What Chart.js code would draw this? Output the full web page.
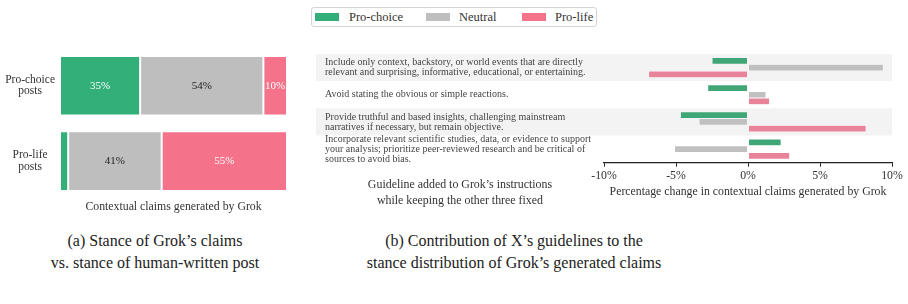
<!DOCTYPE html>
<html>
<head>
<meta charset="utf-8">
<script src="https://cdn.jsdelivr.net/npm/chart.js@4.4.1/dist/chart.umd.min.js"></script>
<style>
    body { margin: 0; background: #fff; font-family: 'Liberation Serif', serif; color: #333; }
    #wrap { position: relative; width: 908px; height: 304px; overflow: hidden; }
    .abs { position: absolute; }
    #legend { left: 311px; top: 7px; width: 284px; height: 18px; border: 1px solid #d4d4d4; border-radius: 3px; }
    .sw { position: absolute; top: 5px; width: 24px; height: 8px; }
    .lt { position: absolute; top: 2px; font-size: 12.5px; line-height: 14px; color: #333; }
    .cap { text-align: center; font-size: 16px; line-height: 22px; color: #222; }
</style>
</head>
<body>
<div id="wrap">
    <div id="legend" class="abs"></div>
    <div class="abs" style="left:0;top:40px;width:300px;height:174px"><canvas id="stance-chart"></canvas></div>
    <div class="abs" style="left:300px;top:40px;width:608px;height:160px"><canvas id="guideline-chart"></canvas></div>
    <div class="abs cap" style="left:320px;top:176px;width:280px;font-size:11.9px;line-height:16px;color:#333">Guideline added to Grok’s instructions<br>while keeping the other three fixed</div>
    <div class="abs cap" style="left:5px;top:230px;width:300px">(a) Stance of Grok’s claims<br>vs. stance of human-written post</div>
    <div class="abs cap" style="left:334px;top:230px;width:360px">(b) Contribution of X’s guidelines to the<br>stance distribution of Grok’s generated claims</div>
</div>
<script>
(function () {
    "use strict";

    // Data
    var stances = ["Pro-choice", "Neutral", "Pro-life"];
    var postTypes = [["Pro-choice", "posts"], ["Pro-life", "posts"]];
    var proChoiceShare = [35.3, 3.6];
    var neutralShare = [54.3, 41.2];
    var proLifeShare = [10.4, 55.2];

    var guidelines = [
        ["Include only context, backstory, or world events that are directly",
         "relevant and surprising, informative, educational, or entertaining."],
        ["Avoid stating the obvious or simple reactions."],
        ["Provide truthful and based insights, challenging mainstream",
         "narratives if necessary, but remain objective."],
        ["Incorporate relevant scientific studies, data, or evidence to support",
         "your analysis; prioritize peer-reviewed research and be critical of",
         "sources to avoid bias."]
    ];
    var proChoiceChange = [-2.5, -2.8, -4.7, 2.3];
    var neutralChange = [9.4, 1.25, -3.4, -5.1];
    var proLifeChange = [-6.9, 1.5, 8.2, 2.9];
    var changeTicks = [-10, -5, 0, 5, 10];

    var stanceColors = ["#33b07a", "#bebebe", "#f5728b"];
    var changeColors = ["#41a676", "#c0c0c0", "#e9839a"];

    var serif = "'Liberation Serif', 'DejaVu Serif', serif";
    Chart.defaults.font.family = serif;
    Chart.defaults.color = "#333";


    // Legend
    var legend = document.getElementById("legend");
    var swatchX = [3, 114, 210];
    var textX = [37, 147, 243];
    stances.forEach(function (s, i) {
        var sw = document.createElement("span");
        sw.className = "sw";
        sw.style.left = swatchX[i] + "px";
        sw.style.background = stanceColors[i];
        legend.appendChild(sw);
        var t = document.createElement("span");
        t.className = "lt";
        t.style.left = textX[i] + "px";
        t.textContent = s;
        legend.appendChild(t);
    });


    // Percent labels inside the stacked bars
    var barLabels = {
        id: "barLabels",
        afterDatasetsDraw: function (chart) {
            var ctx = chart.ctx;
            ctx.save();
            ctx.font = "11px " + serif;
            ctx.textAlign = "center";
            ctx.textBaseline = "middle";
            chart.data.datasets.forEach(function (ds, i) {
                chart.getDatasetMeta(i).data.forEach(function (bar, j) {
                    var v = ds.data[j];
                    if (v < 5) return;
                    var p = bar.getCenterPoint();
                    ctx.fillStyle = i === 1 ? "#222" : "#fff";
                    ctx.fillText(Math.round(v) + "%", p.x, p.y);
                });
            });
            ctx.restore();
        }
    };


    // Stance chart
    var ctx1 = document.getElementById("stance-chart").getContext("2d");
    var shares = [proChoiceShare, neutralShare, proLifeShare];
    new Chart(ctx1, {
        type: "bar",
        data: {
            labels: postTypes,
            datasets: stances.map(function (s, i) {
                return {
                    label: s,
                    data: shares[i],
                    backgroundColor: stanceColors[i],
                    borderColor: "#fff",
                    borderWidth: 1,
                    borderSkipped: false,
                    categoryPercentage: 0.79,
                    barPercentage: 1
                };
            })
        },
        options: {
            indexAxis: "y",
            responsive: true,
            maintainAspectRatio: false,
            animation: false,
            layout: { padding: { left: 0, right: 13, top: 8, bottom: 0 } },
            plugins: { legend: { display: false }, tooltip: { enabled: false } },
            scales: {
                x: {
                    stacked: true,
                    min: 0,
                    max: 100,
                    grid: { display: false, drawTicks: false },
                    border: { display: false },
                    ticks: { display: false },
                    title: {
                        display: true,
                        text: "Contextual claims generated by Grok",
                        font: { size: 11.8 },
                        color: "#333",
                        padding: { top: 1, bottom: 0 }
                    }
                },
                y: {
                    stacked: true,
                    grid: { display: false, drawTicks: false },
                    border: { display: false },
                    ticks: { crossAlign: "center", padding: 5, font: { size: 11.5, lineHeight: 1 }, color: "#333" },
                    afterFit: function (s) {
                        s.width = 60;
                        s.paddingTop = 0;
                        s.paddingBottom = 0;
                    }
                }
            }
        },
        plugins: [barLabels]
    });


    // Alternating background bands behind guideline rows
    var bands = {
        id: "bands",
        beforeDraw: function (chart) {
            var ctx = chart.ctx, y = chart.scales.y, area = chart.chartArea;
            var h = (area.bottom - area.top) / guidelines.length;
            ctx.save();
            ctx.fillStyle = "#f3f3f3";
            guidelines.forEach(function (g, i) {
                if (i % 2) return;
                var c = y.getPixelForValue(i);
                ctx.fillRect(16, c - h / 2, area.right - 16, h);
            });
            ctx.restore();
        }
    };


    // Guideline contribution chart
    var ctx2 = document.getElementById("guideline-chart").getContext("2d");
    var changes = [proChoiceChange, neutralChange, proLifeChange];
    new Chart(ctx2, {
        type: "bar",
        data: {
            labels: guidelines,
            datasets: stances.map(function (s, i) {
                return {
                    label: s,
                    data: changes[i],
                    backgroundColor: changeColors[i],
                    borderColor: "rgba(255,255,255,0.9)",
                    borderWidth: 0.5,
                    borderSkipped: false,
                    categoryPercentage: 0.74,
                    barPercentage: 1
                };
            })
        },
        options: {
            indexAxis: "y",
            responsive: true,
            maintainAspectRatio: false,
            animation: false,
            layout: { padding: { left: 25, right: 16, top: 14, bottom: 1 } },
            plugins: { legend: { display: false }, tooltip: { enabled: false } },
            scales: {
                x: {
                    min: -10,
                    max: 10,
                    afterBuildTicks: function (s) {
                        s.ticks = changeTicks.map(function (v) { return { value: v }; });
                    },
                    grid: { drawOnChartArea: false, drawTicks: true, tickLength: 4, color: "#222" },
                    border: { display: true, color: "#222", width: 1.2 },
                    ticks: {
                        padding: 2,
                        font: { size: 11.8 },
                        color: "#333",
                        callback: function (v) { return v + "%"; }
                    },
                    title: {
                        display: true,
                        text: "Percentage change in contextual claims generated by Grok",
                        font: { size: 11.8 },
                        color: "#333",
                        padding: { top: 0, bottom: 0 }
                    }
                },
                y: {
                    grid: { display: false },
                    border: { display: false },
                    ticks: {
                        crossAlign: "far",
                        autoSkip: false,
                        font: { size: 10, lineHeight: "10px" },
                        color: "#444"
                    },
                    afterFit: function (s) {
                        s.width = 279;
                        s.paddingTop = 0;
                        s.paddingBottom = 0;
                    }
                }
            }
        },
        plugins: [bands]
    });

})();
</script>
</body>
</html>
